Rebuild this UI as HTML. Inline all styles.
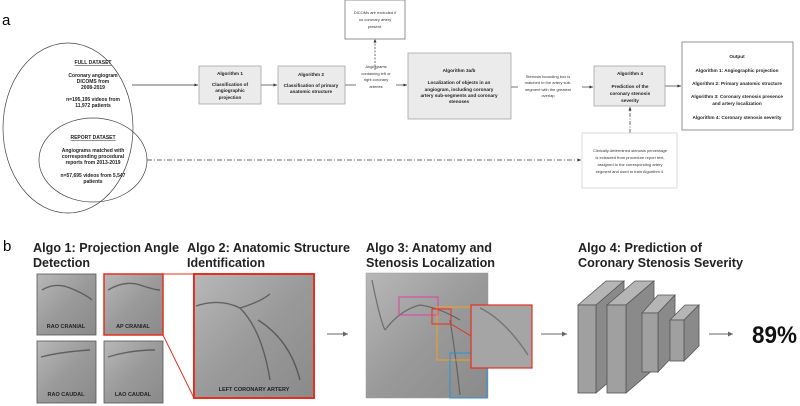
<!DOCTYPE html>
<html><head><meta charset="utf-8"><style>html,body{margin:0;padding:0;background:#fff}svg{display:block}</style></head><body>
<svg width="800" height="406" viewBox="0 0 800 406" xmlns="http://www.w3.org/2000/svg" font-family="Liberation Sans, sans-serif">
<defs>
<marker id="ar" markerWidth="6" markerHeight="6" refX="5" refY="3" orient="auto"><path d="M0,0.8 L5,3 L0,5.2z" fill="#333"/></marker>
<marker id="ag" markerWidth="6" markerHeight="6" refX="5" refY="3" orient="auto"><path d="M0,0.5 L5,3 L0,5.5z" fill="#666"/></marker>
<linearGradient id="img" x1="0" y1="0" x2="1" y2="1"><stop offset="0" stop-color="#b8b8b8"/><stop offset="0.5" stop-color="#9a9a9a"/><stop offset="1" stop-color="#8a8a8a"/></linearGradient>
</defs>
<text x="2" y="25" font-size="15">a</text>
<ellipse cx="68" cy="128" rx="65" ry="85" fill="none" stroke="#444" stroke-width="0.7"/>
<ellipse cx="93" cy="160" rx="54" ry="42" fill="none" stroke="#444" stroke-width="0.7"/>
<g font-size="5" font-weight="bold" text-anchor="middle" fill="#222">
<text x="93" y="64" text-decoration="underline">FULL DATASET</text>
<text x="93" y="77">Coronary angiogram</text><text x="93" y="83">DICOMS from</text><text x="93" y="89">2008-2019</text>
<text x="93" y="101">n=195,195 videos from</text><text x="93" y="107">11,972 patients</text>
<text x="93" y="139" text-decoration="underline">REPORT DATASET</text>
<text x="93" y="152">Angiograms matched with</text><text x="93" y="158">corresponding procedural</text><text x="93" y="164">reports from 2013-2019</text>
<text x="93" y="177">n=57,695 videos from 5,547</text><text x="93" y="183">patients</text>
</g>
<g stroke="#333" stroke-width="0.7" fill="none">
<line x1="132" y1="85" x2="198" y2="85" marker-end="url(#ar)"/>
<line x1="261" y1="85" x2="277" y2="85" marker-end="url(#ar)"/>
<line x1="345" y1="85" x2="356" y2="85"/>
<line x1="396" y1="85" x2="407" y2="85" marker-end="url(#ar)"/>
<line x1="375" y1="70" x2="375" y2="39" stroke-dasharray="2,1.5" marker-end="url(#ar)"/>
<line x1="511" y1="87" x2="518" y2="87"/>
<line x1="582" y1="87" x2="593" y2="87" marker-end="url(#ar)"/>
<line x1="665" y1="86" x2="681" y2="86" marker-end="url(#ar)"/>
<line x1="630" y1="133" x2="630" y2="107" stroke-dasharray="4,1.5,1,1.5" marker-end="url(#ar)"/>
<line x1="147" y1="160" x2="581" y2="160" stroke-dasharray="5,2,1,2" marker-end="url(#ar)"/>
</g>
<g stroke="#999" stroke-width="0.7">
<rect x="199" y="66" width="62" height="38" fill="#ebebeb"/>
<rect x="278" y="66" width="67" height="38" fill="#ebebeb"/>
<rect x="408" y="53" width="103" height="66" fill="#ebebeb"/>
<rect x="594" y="66" width="71" height="40" fill="#ebebeb"/>
<rect x="345" y="0" width="60" height="39" fill="#fff" stroke="#666"/>
<rect x="682" y="42" width="111" height="88" fill="#fff" stroke="#666"/>
<rect x="582" y="133" width="95" height="55" fill="#fff" stroke="#ccc"/>
</g>
<g font-size="4.7" font-weight="bold" text-anchor="middle" fill="#222">
<text x="230" y="75">Algorithm 1</text><text x="230" y="86">Classification of</text><text x="230" y="92">angiographic</text><text x="230" y="99">projection</text>
<text x="311" y="76">Algorithm 2</text><text x="311" y="87">Classification of primary</text><text x="311" y="93">anatomic structure</text>
<text x="459" y="72">Algorithm 3a/b</text><text x="459" y="84">Localization of objects in an</text><text x="459" y="91">angiogram, including coronary</text><text x="459" y="97">artery sub-segments and coronary</text><text x="459" y="103">stenoses</text>
<text x="630" y="75">Algorithm 4</text><text x="630" y="88">Prediction of the</text><text x="630" y="95">coronary stenosis</text><text x="630" y="102">severity</text>
<text x="737" y="58">Output</text><text x="737" y="72">Algorithm 1: Angiographic projection</text><text x="737" y="85">Algorithm 2: Primary anatomic structure</text><text x="737" y="98">Algorithm 3: Coronary stenosis presence</text><text x="737" y="105">and artery localization</text><text x="737" y="119">Algorithm 4: Coronary stenosis severity</text>
</g>
<g font-size="4" text-anchor="middle" fill="#333">
<text x="375" y="14">DICOMs are excluded if</text><text x="375" y="21">no coronary artery</text><text x="375" y="28">present.</text>
<text x="376" y="68">Angiograms</text><text x="376" y="75">containing left or</text><text x="376" y="81">right coronary</text><text x="376" y="88">arteries</text>
<text x="548" y="78">Stenosis bounding box is</text><text x="548" y="84">matched to the artery sub-</text><text x="548" y="91">segment with the greatest</text><text x="548" y="97">overlap</text>
<text x="630" y="152">Clinically-determined stenosis percentage</text><text x="630" y="159">is extracted from procedure report text,</text><text x="630" y="166">assigned to the corresponding artery</text><text x="630" y="173">segment and used to train Algorithm 4.</text>
</g>
<text x="3" y="251" font-size="15">b</text>
<g font-size="13" font-weight="bold" fill="#222" lengthAdjust="spacingAndGlyphs">
<text x="33" y="252" textLength="146" lengthAdjust="spacingAndGlyphs">Algo 1: Projection Angle</text><text x="33" y="267" textLength="57" lengthAdjust="spacingAndGlyphs">Detection</text>
<text x="187" y="252" textLength="163" lengthAdjust="spacingAndGlyphs">Algo 2: Anatomic Structure</text><text x="187" y="267" textLength="78" lengthAdjust="spacingAndGlyphs">Identification</text>
<text x="366" y="252" textLength="126" lengthAdjust="spacingAndGlyphs">Algo 3: Anatomy and</text><text x="366" y="267" textLength="129" lengthAdjust="spacingAndGlyphs">Stenosis Localization</text>
<text x="578" y="252" textLength="124" lengthAdjust="spacingAndGlyphs">Algo 4: Prediction of</text><text x="578" y="267" textLength="165" lengthAdjust="spacingAndGlyphs">Coronary Stenosis Severity</text>
</g>
<g stroke="#555" stroke-width="0.8">
<rect x="37" y="274" width="59" height="61" fill="url(#img)"/>
<rect x="37" y="341" width="59" height="62" fill="url(#img)"/>
<rect x="104" y="341" width="59" height="62" fill="url(#img)"/>
</g>
<rect x="104" y="274" width="59" height="61" fill="url(#img)" stroke="#e53020" stroke-width="1.5"/>
<line x1="163" y1="274" x2="194" y2="274" stroke="#e53020" stroke-width="1"/>
<line x1="163" y1="335" x2="194" y2="398" stroke="#e53020" stroke-width="1"/>
<rect x="194" y="274" width="120" height="124" fill="url(#img)" stroke="#e53020" stroke-width="2"/>
<g stroke="#444" stroke-width="1.4" fill="none" opacity="0.7">
<path d="M42,290 Q55,282 70,288 T92,300"/><path d="M108,290 Q125,280 140,285 T160,290"/><path d="M41,357 Q60,352 90,350"/><path d="M108,357 Q130,350 155,350"/>
<path d="M196,306 Q220,298 240,308 Q260,302 270,294"/><path d="M240,308 Q262,330 270,380"/><path d="M258,320 Q290,340 300,380"/>
</g>
<g font-size="5.5" font-weight="bold" fill="#222" text-anchor="middle">
<text x="66" y="328">RAO CRANIAL</text><text x="133" y="328">AP CRANIAL</text>
<text x="66" y="396">RAO CAUDAL</text><text x="133" y="396">LAO CAUDAL</text>
<text x="254" y="391">LEFT CORONARY ARTERY</text>
</g>
<line x1="327" y1="334" x2="348" y2="334" stroke="#666" stroke-width="1" marker-end="url(#ag)"/>
<rect x="366" y="273" width="122" height="125" fill="url(#img)" stroke="#999" stroke-width="0.5"/>
<g stroke="#444" stroke-width="1.2" fill="none" opacity="0.6">
<path d="M372,280 Q380,320 385,330"/><path d="M385,330 Q400,310 420,305 Q440,308 460,320"/><path d="M450,320 Q455,350 460,395"/>
</g>
<g fill="none" stroke-width="1">
<rect x="399" y="297" width="39" height="18" stroke="#e040a0"/>
<rect x="437" y="307" width="43" height="53" stroke="#f0a020"/>
<rect x="450" y="353" width="37" height="45" stroke="#3090d0"/>
<rect x="432" y="309" width="19" height="15" stroke="#e53020"/>
<line x1="451" y1="324" x2="471" y2="336" stroke="#e53020"/>
</g>
<rect x="471" y="305" width="61" height="63" fill="#a5a5a5" stroke="#e53020" stroke-width="1.2"/>
<path d="M480,308 Q505,320 528,355" stroke="#555" stroke-width="1.5" fill="none" opacity="0.6"/>
<line x1="541" y1="334" x2="567" y2="334" stroke="#666" stroke-width="1" marker-end="url(#ag)"/>
<g stroke="#555" stroke-width="0.8">
<polygon points="578,305 606,281 624,281 596,305" fill="#b5b5b5"/><polygon points="596,305 624,281 624,369 596,393" fill="#8a8a8a"/><rect x="578" y="305" width="18" height="88" fill="#a0a0a0"/>
<polygon points="607,305 635,281 654,281 626,305" fill="#b5b5b5"/><polygon points="626,305 654,281 654,369 626,393" fill="#8a8a8a"/><rect x="607" y="305" width="19" height="88" fill="#a0a0a0"/>
<polygon points="642,313 658,295 675,295 658,313" fill="#b5b5b5"/><polygon points="658,313 675,295 675,354 658,372" fill="#8a8a8a"/><rect x="642" y="313" width="16" height="59" fill="#a0a0a0"/>
<polygon points="670,320 685,305 699,305 684,320" fill="#b5b5b5"/><polygon points="684,320 699,305 699,346 684,361" fill="#8a8a8a"/><rect x="670" y="320" width="14" height="41" fill="#a0a0a0"/>
</g>
<line x1="709" y1="334" x2="733" y2="334" stroke="#666" stroke-width="1" marker-end="url(#ag)"/>
<text x="752" y="343" font-size="24" font-weight="bold" fill="#111" textLength="45" lengthAdjust="spacingAndGlyphs">89%</text>
</svg>
</body></html>
